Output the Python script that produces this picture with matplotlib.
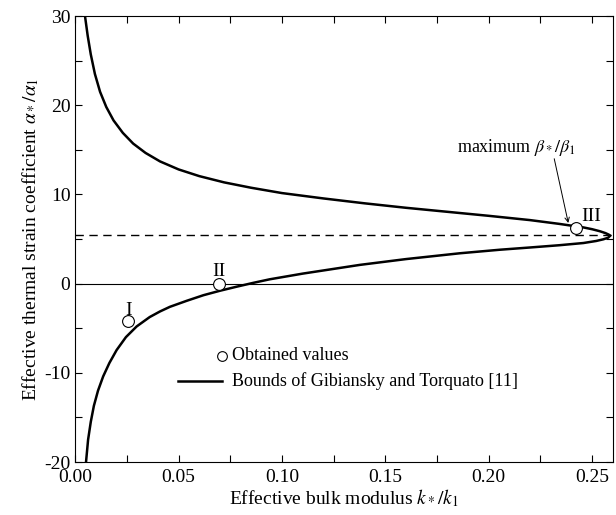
import numpy as np
import matplotlib
matplotlib.use('Agg')
import matplotlib.pyplot as plt
from matplotlib.ticker import MultipleLocator

plt.rcParams['font.family'] = ['Liberation Serif', 'DejaVu Serif']
plt.rcParams['mathtext.fontset'] = 'stix'
plt.rcParams['axes.unicode_minus'] = False

# bound curve (Gibiansky & Torquato)
upper_x = [0.0047, 0.0060, 0.0075, 0.0095, 0.0120, 0.0150, 0.0185, 0.0230,
           0.0280, 0.0340, 0.0410, 0.0500, 0.0600, 0.0720, 0.0850, 0.1000,
           0.1200, 0.1400, 0.1600, 0.1800, 0.2000, 0.2200, 0.2340, 0.2458,
           0.2500, 0.2538, 0.2565, 0.2580, 0.2588]
upper_y = [30.0, 27.8, 25.7, 23.5, 21.5, 19.8, 18.3, 16.9,
           15.7, 14.65, 13.7, 12.8, 12.05, 11.35, 10.75, 10.15,
           9.55, 9.0, 8.5, 8.05, 7.6, 7.12, 6.7, 6.3,
           6.1, 5.87, 5.66, 5.5, 5.38]
lower_x = [0.0052, 0.0062, 0.0075, 0.0090, 0.0110, 0.0135, 0.0165, 0.0200,
           0.0245, 0.0297, 0.0360, 0.0410, 0.0458, 0.0540, 0.0620, 0.0700,
           0.0780, 0.0860, 0.0940, 0.1100, 0.1377, 0.1600, 0.1860, 0.2055,
           0.2200, 0.2340, 0.2458, 0.2520, 0.2555, 0.2578]
lower_y = [-20.0, -17.5, -15.5, -13.7, -12.0, -10.4, -8.9, -7.45,
           -6.0, -4.8, -3.75, -3.12, -2.6, -1.92, -1.3, -0.8,
           -0.35, 0.08, 0.48, 1.12, 2.1, 2.75, 3.4, 3.8,
           4.05, 4.3, 4.55, 4.78, 4.97, 5.15]

# obtained values
pts_x = [0.0257, 0.0693, 0.2423]
pts_y = [-4.2, 0.0, 6.2]
pts_lab = ['I', 'II', 'III']
lab_x = [0.0257, 0.0693, 0.2495]
lab_y = [-3.0, 1.4, 7.5]

beta_max = 5.4

fig = plt.figure(figsize=(6.16, 5.15), dpi=100)
ax = fig.add_subplot(111)
fig.subplots_adjust(left=0.1222, right=0.9947, top=0.9689, bottom=0.1029)

curve_x = upper_x + lower_x[::-1]
curve_y = upper_y + lower_y[::-1]
ax.plot(curve_x, curve_y, color='black', lw=1.8, solid_joinstyle='round')
ax.axhline(0, color='black', lw=0.8)
ax.axhline(beta_max, color='black', lw=1.0, ls=(0, (6, 4)))
ax.plot(pts_x, pts_y, 'o', mfc='white', mec='black', ms=8.5, mew=0.8)

for x, y, s in zip(lab_x, lab_y, pts_lab):
    ax.text(x, y, s, ha='center', va='center', fontsize=14)

ax.annotate('', xy=(0.2385, 6.8), xytext=(0.2317, 14.0),
            arrowprops=dict(arrowstyle='->', lw=0.7, color='black',
                            shrinkA=0, shrinkB=0, mutation_scale=8))
ax.text(0.1846, 15.3, r'maximum $\beta_*/\beta_1$', ha='left', va='center',
        fontsize=13)

# hand drawn legend
ax.plot([0.0708], [-8.1], 'o', mfc='white', mec='black', ms=7, mew=0.8)
ax.text(0.0757, -8.1, 'Obtained values', ha='left', va='center', fontsize=13)
ax.plot([0.0498, 0.0708], [-10.9, -10.9], color='black', lw=1.8)
ax.text(0.0757, -10.9, 'Bounds of Gibiansky and Torquato [11]', ha='left',
        va='center', fontsize=13)

ax.set_xlim(0, 0.26)
ax.set_ylim(-20, 30)
ax.xaxis.set_major_locator(MultipleLocator(0.05))
ax.xaxis.set_minor_locator(MultipleLocator(0.025))
ax.yaxis.set_major_locator(MultipleLocator(10))
ax.yaxis.set_minor_locator(MultipleLocator(5))
ax.xaxis.set_major_formatter(matplotlib.ticker.FormatStrFormatter('%.2f'))
ax.tick_params(which='both', direction='in', top=True, right=True,
               length=5, width=0.8, labelsize=14)
ax.tick_params(axis='x', pad=5)
for sp in ax.spines.values():
    sp.set_linewidth(0.8)

ax.set_xlabel(r'Effective bulk modulus $k_*/k_1$', fontsize=14, labelpad=1)
ax.set_ylabel(r'Effective thermal strain coefficient $\alpha_*/\alpha_1$',
              fontsize=14, labelpad=2)

plt.savefig('out.png', dpi=100)
